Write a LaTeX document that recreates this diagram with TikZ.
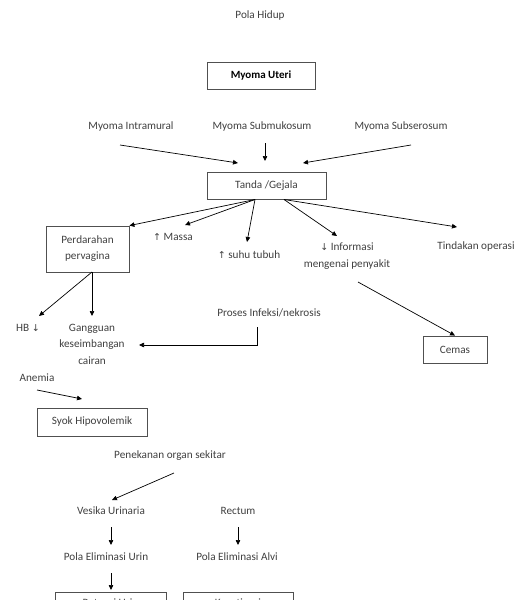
\documentclass[tikz,border=0pt]{standalone}
\usepackage{fontspec}
\setmainfont{Carlito}
\newfontfamily\arrowfont{DejaVu Sans}
\usetikzlibrary{arrows.meta}
\definecolor{txt}{HTML}{404040}
\definecolor{boxline}{HTML}{505050}
\newcommand{\upar}{{\arrowfont\fontsize{9.5}{10}\selectfont ↑}}
\newcommand{\dnar}{{\arrowfont\fontsize{9.5}{10}\selectfont ↓}}
\begin{document}
\begin{tikzpicture}[x=1pt,y=-1pt,
  lbl/.style={text=txt, font=\fontsize{11.2}{16.5}\selectfont, inner sep=0pt, align=center},
  boxn/.style={draw=boxline, line width=0.8pt, text=txt, font=\fontsize{11.2}{16}\selectfont, inner sep=0pt, align=center},
  arr/.style={-{Triangle[length=5pt,width=4.5pt]}, line width=0.7pt, black},
  ln/.style={line width=0.7pt, black}]
\clip (0,0) rectangle (531,600);
\fill[white] (0,0) rectangle (531,600);
% texts and boxes
\node[lbl] (pola) at (260,16) {Pola Hidup};
\node[boxn, minimum width=108pt, minimum height=27pt, text=black, font=\fontsize{11}{12}\selectfont\bfseries] (mu) at (261,75.5) {Myoma Uteri};
\node[lbl] (mi) at (131,127) {Myoma Intramural};
\node[lbl] (ms) at (262,127) {Myoma Submukosum};
\node[lbl] (mss) at (401,127) {Myoma Subserosum};
\node[boxn, minimum width=119pt, minimum height=27pt] (tanda) at (266.5,185.5) {Tanda /Gejala};
\node[boxn, minimum width=83pt, minimum height=46pt] (perd) at (87.5,249) {Perdarahan\\pervagina};
\node[lbl] (massa) at (173,237) {\upar\ Massa};
\node[lbl] (suhu) at (249,255) {\upar\ suhu tubuh};
\node[lbl] (info) at (347,256) {\dnar\ Informasi\\mengenai penyakit};
\node[lbl] (tind) at (476,247) {Tindakan operasi};
\node[boxn, minimum width=64pt, minimum height=27pt] (cemas) at (455,349.5) {Cemas};
\node[lbl] (hb) at (28,328) {HB \dnar};
\node[lbl] (gang) at (92,344) {Gangguan\\keseimbangan\\cairan};
\node[lbl] (proses) at (269,313) {Proses Infeksi/nekrosis};
\node[lbl] (anemia) at (37,378) {Anemia};
\node[boxn, minimum width=110pt, minimum height=28pt] (syok) at (92,422) {Syok Hipovolemik};
\node[lbl] (pen) at (170,456) {Penekanan organ sekitar};
\node[lbl] (ves) at (111,511) {Vesika Urinaria};
\node[lbl] (rect) at (238,511) {Rectum};
\node[lbl] (peu) at (106,557) {Pola Eliminasi Urin};
\node[lbl] (pea) at (237,557) {Pola Eliminasi Alvi};
\node[boxn, minimum width=111pt, minimum height=27pt, text depth=5pt] (ret) at (110.5,605.5) {Retensi Urin};
\node[boxn, minimum width=110pt, minimum height=27pt, text depth=5pt] (kon) at (238,605.5) {Konstipasi};
% connector coordinates
\coordinate (mi-o) at (120,145);
\coordinate (mi-e) at (238,163);
\coordinate (ms-o) at (265,143);
\coordinate (ms-e) at (265,161);
\coordinate (mss-o) at (411,145);
\coordinate (mss-e) at (303,163);
\coordinate (t1) at (255,199.5);
\coordinate (t2) at (284,199.5);
\coordinate (massa-e) at (185,225);
\coordinate (suhu-e) at (247,242);
\coordinate (info-e) at (337,236);
\coordinate (tind-e) at (457,227);
\coordinate (info-o) at (358,282);
\coordinate (p1) at (92,272);
\coordinate (hb-e) at (39,316);
\coordinate (gang-e) at (92,316);
\coordinate (pr-o) at (257,327);
\coordinate (gang-r) at (139,345);
\coordinate (an-o) at (37,390);
\coordinate (syok-e) at (82,399);
\coordinate (pen-o) at (174,473);
\coordinate (ves-e) at (112,500);
\coordinate (ves-o) at (111,527);
\coordinate (peu-e) at (111,545);
\coordinate (rect-o) at (238,527);
\coordinate (pea-e) at (238,545);
\coordinate (peu-o) at (111,573);
\coordinate (ret-e) at (111,590);
% connectors
\draw[arr] (mi-o) -- (mi-e);
\draw[arr] (ms-o) -- (ms-e);
\draw[arr] (mss-o) -- (mss-e);
\draw[arr] (t1) -- (perd.north east);
\draw[arr] (t1) -- (massa-e);
\draw[arr] (t1) -- (suhu-e);
\draw[arr] (t2) -- (info-e);
\draw[arr] (t2) -- (tind-e);
\draw[arr] (info-o) -- (cemas.north);
\draw[arr] (p1) -- (hb-e);
\draw[arr] (p1) -- (gang-e);
\draw[arr] (pr-o) |- (gang-r);
\draw[arr] (an-o) -- (syok-e);
\draw[arr] (pen-o) -- (ves-e);
\draw[arr] (ves-o) -- (peu-e);
\draw[arr] (rect-o) -- (pea-e);
\draw[arr] (peu-o) -- (ret-e);
\end{tikzpicture}
\end{document}
